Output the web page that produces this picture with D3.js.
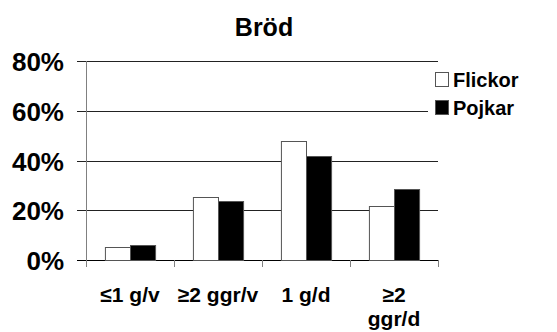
<!DOCTYPE html>
<html>
<head>
<meta charset="utf-8">
<script src="https://cdn.jsdelivr.net/npm/d3@7"></script>
<style>
  body { margin: 0; background: #fff; }
  text { font-family: Arial, "Liberation Sans", sans-serif; font-weight: bold; fill: #000; }
</style>
</head>
<body>
<div id="chart"></div>
<script>
'use strict';

// data
var categories = ['≤1 g/v', '≥2 ggr/v', '1 g/d', '≥2\nggr/d'];
var flickor = [5.2, 25.3, 48.0, 21.7];
var pojkar = [6.0, 23.8, 42.0, 28.6];
var seriesNames = ['Flickor', 'Pojkar'];
var yTicks = [0, 20, 40, 60, 80];

var W = 557, H = 332;
var margin = {top: 61, left: 86, right: 119, bottom: 72};
var cw = W - margin.left - margin.right;
var ch = H - margin.top - margin.bottom;

var svg = d3.select('#chart').append('svg')
    .attr('width', W)
    .attr('height', H);

var g = svg.append('g')
    .attr('transform', 'translate(' + margin.left + ',' + margin.top + ')');

var x = d3.scaleBand()
    .domain(categories)
    .range([0, cw])
    .paddingInner(0.43)
    .paddingOuter(0.215);

var xs = d3.scaleBand()
    .domain(seriesNames)
    .range([0, x.bandwidth()]);

var y = d3.scaleLinear()
    .domain([0, 80])
    .range([ch, 0]);

// gridlines + y ticks
g.selectAll('.grid')
    .data(yTicks)
    .enter()
    .append('line')
    .attr('x1', -9)
    .attr('x2', cw)
    .attr('y1', function(d){ return Math.round(y(d)) + 0.5; })
    .attr('y2', function(d){ return Math.round(y(d)) + 0.5; })
    .style('stroke', function(d){ return d === 0 ? '#000' : '#222'; })
    .style('stroke-width', 1);

g.selectAll('.ylab')
    .data(yTicks)
    .enter()
    .append('text')
    .attr('x', -22)
    .attr('y', function(d){ return y(d) + 10; })
    .attr('text-anchor', 'end')
    .style('font-size', '26px')
    .text(function(d){ return d + '%'; });

// y axis line
g.append('line')
    .attr('x1', 0.5).attr('x2', 0.5)
    .attr('y1', 0).attr('y2', ch + 7)
    .style('stroke', '#808080');

// category ticks (boundaries)
var step = cw / categories.length;
g.selectAll('.xtick')
    .data(d3.range(1, categories.length + 1))
    .enter()
    .append('line')
    .attr('x1', function(d){ return Math.round(d * step) + 0.5; })
    .attr('x2', function(d){ return Math.round(d * step) + 0.5; })
    .attr('y1', ch)
    .attr('y2', ch + 7)
    .style('stroke', '#808080');

var rows = categories.map(function(c, i){
    return {cat: c, vals: [flickor[i], pojkar[i]]};
});

var groups = g.selectAll('.grp')
    .data(rows)
    .enter()
    .append('g')
    .attr('transform', function(d){ return 'translate(' + x(d.cat) + ',0)'; });

groups.selectAll('rect')
    .data(function(d){ return d.vals.map(function(v, j){ return {s: seriesNames[j], v: v}; }); })
    .enter()
    .append('rect')
    .attr('x', function(d){ return xs(d.s) + 0.5; })
    .attr('width', xs.bandwidth())
    .attr('y', function(d){ return Math.round(y(d.v)) + 0.5; })
    .attr('height', function(d){ return Math.round(ch - y(d.v)); })
    .style('fill', function(d){ return d.s === 'Flickor' ? '#fff' : '#000'; })
    .style('stroke', '#555')
    .style('stroke-width', 1);

// category labels
var xl = g.selectAll('.xlab')
    .data(categories)
    .enter()
    .append('text')
    .attr('text-anchor', 'middle')
    .style('font-size', '21px')
    .attr('transform', function(d){ return 'translate(' + (x(d) + x.bandwidth() / 2) + ',' + (ch + 42) + ')'; });

xl.selectAll('tspan')
    .data(function(d){ return d.split('\n'); })
    .enter()
    .append('tspan')
    .attr('x', 0)
    .attr('dy', function(d, i){ return i === 0 ? 0 : 24; })
    .text(function(d){ return d; });

// title
svg.append('text')
    .attr('x', 264)
    .attr('y', 36)
    .attr('text-anchor', 'middle')
    .style('font-size', '25px')
    .text('Bröd');

// legend
var legend = svg.append('g')
    .attr('transform', 'translate(428,64)');

legend.append('rect')
    .attr('width', 129)
    .attr('height', 56)
    .style('fill', '#fff');

var li = legend.selectAll('.li')
    .data(seriesNames)
    .enter()
    .append('g')
    .attr('transform', function(d, i){ return 'translate(7,' + (8 + i * 28) + ')'; });

li.append('rect')
    .attr('x', 0.5).attr('y', 0.5)
    .attr('width', 13).attr('height', 14)
    .style('fill', function(d){ return d === 'Flickor' ? '#fff' : '#000'; })
    .style('stroke', '#555');

li.append('text')
    .attr('x', 18)
    .attr('y', 14.5)
    .style('font-size', '20px')
    .text(function(d){ return d; });
</script>
</body>
</html>
